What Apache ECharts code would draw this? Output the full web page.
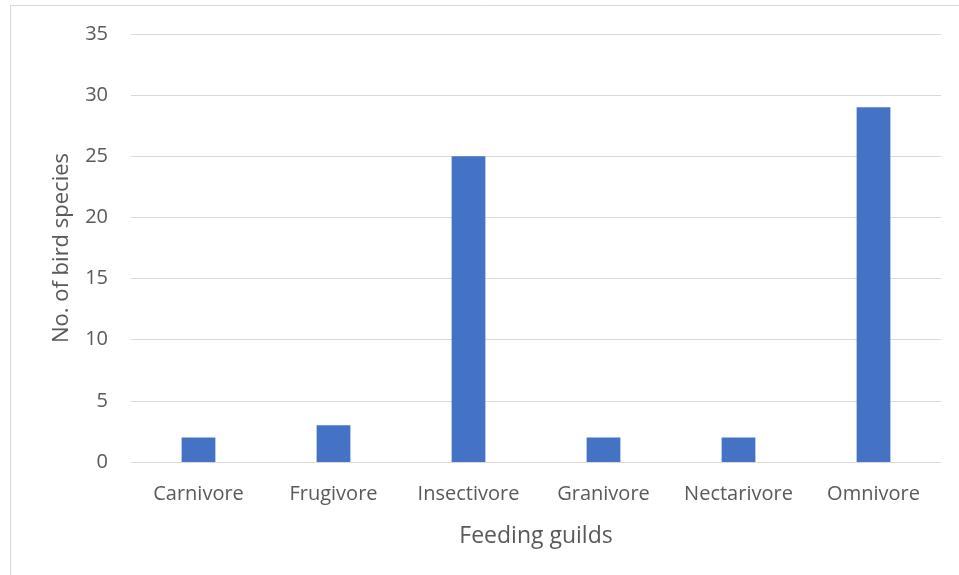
<!DOCTYPE html>
<html>
<head>
<meta charset="utf-8">
<script src="https://cdn.jsdelivr.net/npm/echarts@6/dist/echarts.min.js"></script>
<style>
  html, body { margin: 0; padding: 0; background: #fff; }
  #chart { width: 959px; height: 575px; }
</style>
</head>
<body>
<div id="chart"></div>
<script>
// Feeding guilds of recorded bird species
const guilds = ['Carnivore', 'Frugivore', 'Insectivore', 'Granivore', 'Nectarivore', 'Omnivore'];
const speciesCount = [2, 3, 25, 2, 2, 29];
const yTicks = [0, 5, 10, 15, 20, 25, 30, 35];

const textColor = '#595959';
const fontFamily = '"Open Sans", sans-serif';

const chart = echarts.init(document.getElementById('chart'));
chart.setOption({
  animation: false,
  backgroundColor: '#fff',
  graphic: [
    { type: 'line', shape: { x1: 10.5, y1: 5, x2: 10.5, y2: 575 }, style: { stroke: '#d9d9d9', lineWidth: 1 } },
    { type: 'line', shape: { x1: 10, y1: 5.5, x2: 959, y2: 5.5 }, style: { stroke: '#d9d9d9', lineWidth: 1 } }
  ],
  grid: { left: 131, right: 18, top: 34, bottom: 113, containLabel: false },
  xAxis: {
    type: 'category',
    data: guilds,
    name: 'Feeding guilds',
    nameLocation: 'middle',
    nameGap: 63,
    nameTextStyle: { color: textColor, fontSize: 23, fontFamily: fontFamily },
    axisLine: { lineStyle: { color: '#d9d9d9', width: 1 } },
    axisTick: { show: false },
    axisLabel: { interval: 0, hideOverlap: false, color: textColor, fontSize: 20, fontFamily: fontFamily, margin: 22 }
  },
  yAxis: {
    type: 'value',
    min: yTicks[0],
    max: yTicks[yTicks.length - 1],
    interval: yTicks[1] - yTicks[0],
    name: 'No. of bird species',
    nameLocation: 'middle',
    nameGap: 58,
    nameTextStyle: { color: textColor, fontSize: 22, fontFamily: fontFamily },
    axisLine: { show: false },
    axisTick: { show: false },
    splitLine: { lineStyle: { color: '#d9d9d9', width: 1 } },
    axisLabel: { color: textColor, fontSize: 20, fontFamily: fontFamily, margin: 23 }
  },
  series: [{
    type: 'bar',
    data: speciesCount,
    barWidth: '25%',
    itemStyle: { color: '#4472C4' }
  }]
});
</script>
</body>
</html>
